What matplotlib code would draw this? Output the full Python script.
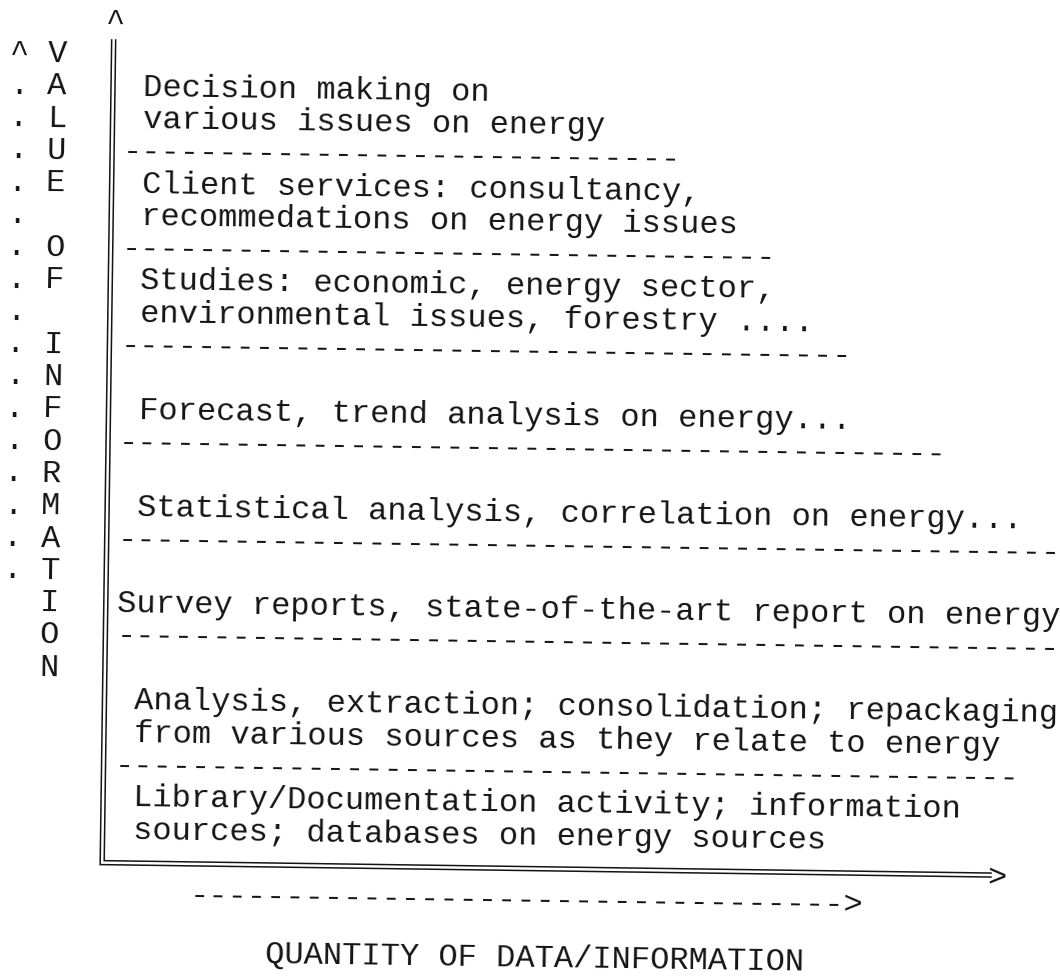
import matplotlib
matplotlib.use("Agg")
import matplotlib.pyplot as plt
from matplotlib.transforms import Affine2D

# ================= DATA =================
# levels of the value pyramid, from highest value (top) to lowest (bottom)
levels = [
    ["Decision making on", "various issues on energy"],
    ["Client services: consultancy,", "recommedations on energy issues"],
    ["Studies: economic, energy sector,", "environmental issues, forestry ...."],
    ["Forecast, trend analysis on energy..."],
    ["Statistical analysis, correlation on energy..."],
    ["Survey reports, state-of-the-art report on energy"],
    ["Analysis, extraction; consolidation; repackaging",
     "from various sources as they relate to energy"],
    ["Library/Documentation activity; information",
     "sources; databases on energy sources"],
]
# number of typed dashes in the rule under each level (the last level has none)
rule_lengths = [29, 34, 38, 43, 49, 49, 47]
arrow_dashes = 34
value_label = "VALUE OF INFORMATION"
quantity_label = "QUANTITY OF DATA/INFORMATION"

# ================= LAYOUT (typewriter grid) =================
FONT = 23.0
PITCH = FONT / 72 * 100 * 0.6   # px per character column (mono advance = 0.6 em)
LEAD = 32.3       # px per typed line
SKEW = 0.8        # the scan is turned slightly clockwise (degrees)
ORIGIN = (115, 53)
INK = "#141414"
MONO = "Liberation Mono"

level_rows = [1, 4, 7, 11, 14, 17, 20, 23]
level_cols = [2, 2, 2, 2, 2, 1, 2, 2]
rule_col = 1
axis_row = 25.1
axis_end_col = 46.3
arrow_row, arrow_col = 26, 5
title_row, title_col = 27.8, 9
label_col, dot_col = -3, -5

fig = plt.figure(figsize=(10.6, 9.78), dpi=100)
ax = fig.add_axes([0, 0, 1, 1])
ax.set_xlim(0, 1060)
ax.set_ylim(978, 0)
ax.axis("off")

page = Affine2D().rotate_deg(SKEW).translate(*ORIGIN) + ax.transData


def put(col, row, s, ha="left"):
    x = col * PITCH - (PITCH / 2 if ha == "left" else 0)
    ax.text(x, row * LEAD + 10, s, transform=page, family=MONO,
            fontsize=FONT, color=INK, ha=ha, va="baseline",
            rotation=-SKEW, rotation_mode="anchor")


# level texts and the dashed rules between them
for i, lines in enumerate(levels):
    for k, line in enumerate(lines):
        put(level_cols[i], level_rows[i] + k, line)
    if i < len(rule_lengths):
        put(rule_col, level_rows[i] + len(lines), "-" * rule_lengths[i])

# vertical axis title, one letter per line, with the dotted arrow beside it
for r, ch in enumerate(value_label):
    if ch != " ":
        put(label_col, r, ch, ha="center")
put(dot_col, 0, "^", ha="center")
for r in range(1, 17):
    put(dot_col, r, ".", ha="center")

# double-ruled axes (vertical and horizontal) with arrow heads
y_ax = axis_row * LEAD
x_end = axis_end_col * PITCH
ax.plot([-3.5, -3.5, x_end], [-12, y_ax + 2, y_ax + 2],
        transform=page, color=INK, lw=1.1, solid_joinstyle="miter")
ax.plot([0.5, 0.5, x_end], [-12, y_ax - 2, y_ax - 2],
        transform=page, color=INK, lw=1.1, solid_joinstyle="miter")
put(0, -1, "^", ha="center")
ax.text(x_end - 4, y_ax + 10, ">", transform=page, family=MONO,
        fontsize=FONT, color=INK, ha="left", va="baseline",
        rotation=-SKEW, rotation_mode="anchor")

# dashed arrow and horizontal axis title
put(arrow_col, arrow_row, "-" * arrow_dashes + ">")
put(title_col, title_row, quantity_label)

fig.savefig("out.png", dpi=100, facecolor="white")
